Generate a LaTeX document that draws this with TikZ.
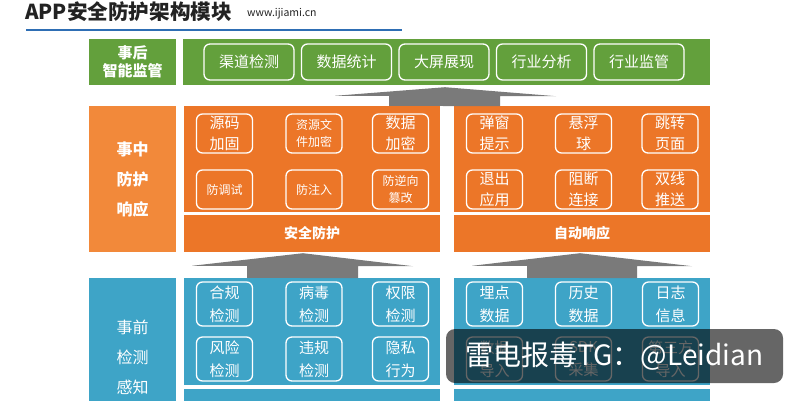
\documentclass[tikz,border=0pt]{standalone}
\usepackage{fontspec}
\setmainfont{Noto Sans CJK SC}
\usepackage{tikz}
\usetikzlibrary{positioning}
\usepackage{xcolor}

\definecolor{hougreen}{RGB}{99,160,60}
\definecolor{zhongorange}{RGB}{236,118,40}
\definecolor{tagorange}{RGB}{242,137,58}
\definecolor{qianblue}{RGB}{62,164,199}
\definecolor{arrowgray}{RGB}{122,122,122}
\definecolor{rulecolor}{RGB}{46,110,180}
\definecolor{titlegray}{RGB}{34,34,34}

\begin{document}
\begin{tikzpicture}[
        x=1pt, y=-1pt,
        tag/.style={
            rectangle,
            inner sep=0pt,
            text=white,
            align=center,
            minimum width=87pt
        },
        panel/.style={
            rectangle,
            inner sep=0pt,
            minimum width=256pt,
            minimum height=106pt
        },
        bar/.style={
            rectangle,
            inner sep=0pt,
            text=white,
            minimum width=256pt,
            font=\bfseries\fontsize{14}{16}\selectfont
        },
        item/.style={
            rectangle,
            draw=white,
            line width=1.3pt,
            rounded corners=6pt,
            inner sep=0pt,
            text=white,
            align=center,
            minimum width=56pt,
            minimum height=39pt,
            font=\fontsize{15}{21}\selectfont
        },
        greenitem/.style={
            item,
            minimum width=90pt,
            minimum height=36pt,
            font=\fontsize{15}{18}\selectfont
        },
        smallitem/.style={
            item,
            font=\fontsize{12}{17}\selectfont
        },
        blueitem/.style={
            item,
            minimum height=44pt,
            font=\fontsize{15}{23}\selectfont
        },
        bigarrow/.style={
            fill=arrowgray
        }
    ]

        \useasboundingbox (0,0) rectangle (800,400);
        \clip (0,0) rectangle (800,400);

        % 标题
        \node[anchor=west, inner sep=0pt, text=titlegray, font=\bfseries\fontsize{20.6}{22}\selectfont] (title) at (25,12) {APP安全防护架构模块};
        \node[anchor=west, inner sep=0pt, text=titlegray, font=\fontsize{10.5}{12}\selectfont] (site) at (247,14) {www.ijiami.cn};
        \draw[line width=2pt, rulecolor] (26,29.5) -- (402,29.5);

        % 事后智能监管
        \node[tag, fill=hougreen, minimum height=46pt, font=\bfseries\fontsize{15}{18}\selectfont] (gtag) at (132.5,62) {事后\\智能监管};
        \node[panel, fill=hougreen, minimum width=527pt, minimum height=46pt] (gmain) at (446.5,62) {};
        \node[greenitem] (channel) at (249,62) {渠道检测};
        \node[greenitem, right=6.2pt of channel] (stats) {数据统计};
        \node[greenitem, right=6.2pt of stats] (screen) {大屏展现};
        \node[greenitem, right=6.2pt of screen] (industry) {行业分析};
        \node[greenitem, right=6.2pt of industry] (supervise) {行业监管};

        % 事中防护响应
        \node[tag, fill=tagorange, minimum height=146pt, font=\bfseries\fontsize{16}{30}\selectfont] (otag) at (132.5,179) {事中\\防护\\响应};
        \node[panel, fill=zhongorange] (protect) at (312,159) {};
        \node[panel, fill=zhongorange] (respond) at (582,159) {};
        \node[bar, fill=zhongorange, minimum height=37pt] (protectbar) at (312,233.5) {安全防护};
        \node[bar, fill=zhongorange, minimum height=37pt] (respondbar) at (582,233.5) {自动响应};

        % 安全防护
        \node[item] (source) at (224.5,133.5) {源码\\加固};
        \node[smallitem] (resfile) at (314,133.5) {资源文\\件加密};
        \node[item] (dataenc) at (400.5,133.5) {数据\\加密};
        \node[smallitem] (antidebug) at (224.5,189.5) {防调试};
        \node[smallitem] (antiinject) at (314,189.5) {防注入};
        \node[smallitem] (antitamper) at (400.5,189.5) {防逆向\\篡改};

        % 自动响应
        \node[item] (popup) at (494.5,133.5) {弹窗\\提示};
        \node[item] (floatball) at (583.5,133.5) {悬浮\\球};
        \node[item] (redirect) at (670,133.5) {跳转\\页面};
        \node[item] (quitapp) at (494.5,189.5) {退出\\应用};
        \node[item] (block) at (583.5,189.5) {阻断\\连接};
        \node[item] (dualline) at (670,189.5) {双线\\推送};

        % 事前检测感知
        \node[tag, fill=qianblue, minimum height=132pt] (btag) at (132.5,344) {};
        \node[tag, font=\fontsize{16}{30}\selectfont] (btagtext) at (132.5,357) {事前\\检测\\感知};
        \node[panel, fill=qianblue, minimum height=107pt] (detect) at (312,331.5) {};
        \node[panel, fill=qianblue, minimum height=107pt] (collect) at (582,331.5) {};
        \node[bar, fill=qianblue, minimum height=21pt] (detectbar) at (312,399.5) {};
        \node[bar, fill=qianblue, minimum height=21pt] (collectbar) at (582,399.5) {};

        % 检测
        \node[blueitem] (comply) at (224.5,304) {合规\\检测};
        \node[blueitem] (virus) at (314,304) {病毒\\检测};
        \node[blueitem] (permit) at (400.5,304) {权限\\检测};
        \node[blueitem] (risk) at (224.5,359) {风险\\检测};
        \node[blueitem] (violate) at (314,359) {违规\\检测};
        \node[blueitem] (privacy) at (400.5,359) {隐私\\行为};

        % 数据采集
        \node[blueitem] (trackpoint) at (494.5,304) {埋点\\数据};
        \node[blueitem] (history) at (583.5,304) {历史\\数据};
        \node[blueitem] (logs) at (670.5,304) {日志\\信息};
        \node[blueitem] (import) at (494.5,359) {数据\\导入};
        \node[blueitem] (sdk) at (583.5,359) {SDK\\采集};
        \node[blueitem] (thirdparty) at (670.5,359) {第三方\\导入};

        % 箭头
        \fill[bigarrow] ([xshift=77pt]protect.north) -- ++(0,-10) -- ++(-54,0)
            -- ([xshift=-1.5pt,yshift=-2pt]gmain.south) -- ++(111,9) -- ++(-56,0) -- ++(0,10) -- cycle;
        \fill[bigarrow] ([xshift=-65pt]detect.north) -- ++(0,-12) -- ++(-55,0)
            -- ([xshift=-9pt,yshift=-1pt]protectbar.south) -- ++(110,13) -- ++(-55,0) -- ++(0,12) -- cycle;
        \fill[bigarrow] ([xshift=-55pt]collect.north) -- ++(0,-12) -- ++(-55,0)
            -- ([xshift=-2pt,yshift=-1pt]respondbar.south) -- ++(112,13) -- ++(-55,0) -- ++(0,12) -- cycle;

        % 水印
        \node[rectangle, rounded corners=9pt, fill=black, fill opacity=0.6, text opacity=1, text=white,
            minimum width=337pt, minimum height=54pt, inner sep=0pt, font=\fontsize{28}{30}\selectfont] (mark) at (614.5,356) {雷电报毒TG：@Leidian};

    \end{tikzpicture}
\end{document}
